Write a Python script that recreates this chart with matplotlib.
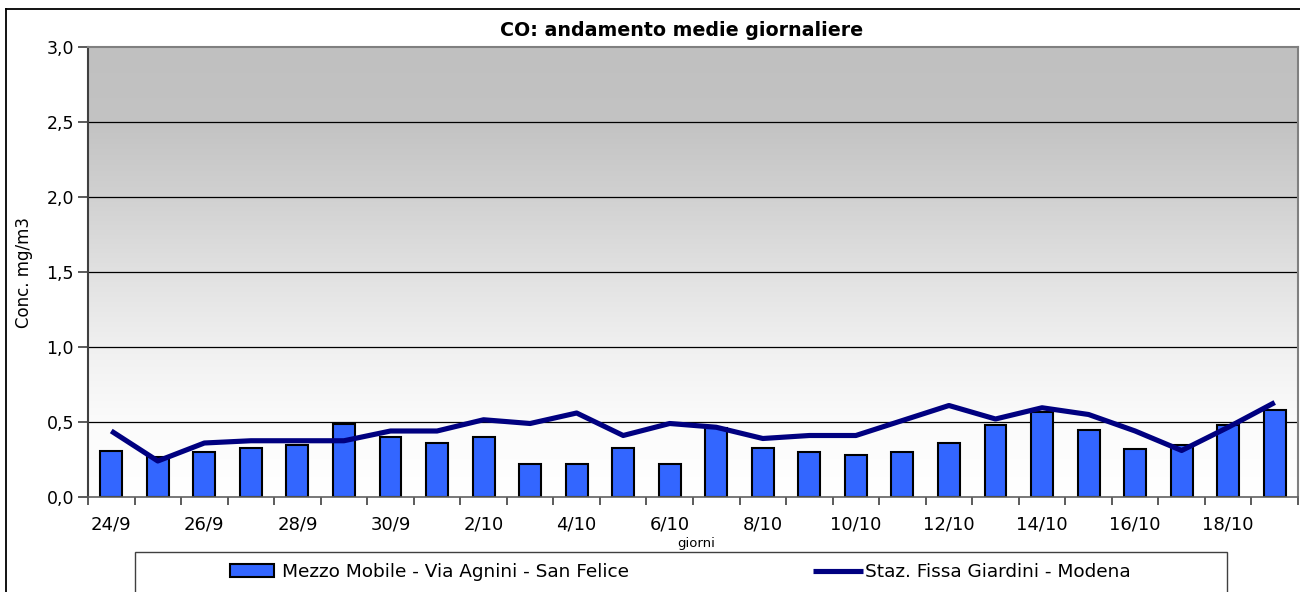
import numpy as np
import matplotlib.pyplot as plt
from matplotlib.colors import LinearSegmentedColormap
from matplotlib.patches import Rectangle
from matplotlib.lines import Line2D

plt.rcParams['font.family'] = ['DejaVu Sans']

# daily averages CO (mg/m3)
days = ['24/9', '25/9', '26/9', '27/9', '28/9', '29/9', '30/9',
        '1/10', '2/10', '3/10', '4/10', '5/10', '6/10', '7/10', '8/10',
        '9/10', '10/10', '11/10', '12/10', '13/10', '14/10', '15/10',
        '16/10', '17/10', '18/10', '19/10']
mezzo_mobile = [0.31, 0.27, 0.30, 0.33, 0.35, 0.49, 0.40, 0.36, 0.40, 0.22,
                0.22, 0.33, 0.22, 0.46, 0.33, 0.30, 0.28, 0.30, 0.36, 0.48,
                0.57, 0.45, 0.32, 0.345, 0.48, 0.58]
staz_fissa = [0.44, 0.24, 0.36, 0.375, 0.375, 0.375, 0.44, 0.44, 0.515, 0.49,
              0.56, 0.41, 0.49, 0.465, 0.39, 0.41, 0.41, 0.51, 0.61, 0.52,
              0.595, 0.55, 0.44, 0.31, 0.465, 0.63]
y_ticks = [0.0, 0.5, 1.0, 1.5, 2.0, 2.5, 3.0]

W, H = 1300, 592
fig = plt.figure(figsize=(W / 100, H / 100), dpi=100)
ax = fig.add_axes([88 / W, 1 - 497 / H, 1210 / W, 450 / H])

x = np.arange(len(days))

# grey-to-white gradient background (white at the bottom)
cmap = LinearSegmentedColormap.from_list('bg', [
    (0.0, '#ffffff'), (0.5 / 3, '#fbfbfb'), (1.0 / 3, '#f0f0f0'),
    (1.5 / 3, '#e1e1e1'), (2.0 / 3, '#d1d1d1'), (2.5 / 3, '#c3c3c3'),
    (1.0, '#c0c0c0')])
grad = np.linspace(0, 1, 256).reshape(-1, 1)
ax.imshow(grad, extent=[-0.5, len(days) - 0.5, 0, 3], aspect='auto',
          cmap=cmap, origin='lower', zorder=0, interpolation='bicubic')

for yv in y_ticks[1:-1]:
    ax.axhline(yv, color='black', lw=0.9, zorder=1)

ax.bar(x, mezzo_mobile, width=0.47, color='#3366ff', edgecolor='black',
       linewidth=1.5, zorder=2, label='Mezzo Mobile - Via Agnini - San Felice')
ax.plot(x, staz_fissa, color='#000080', lw=3.7, zorder=3,
        solid_joinstyle='round', solid_capstyle='butt',
        label='Staz. Fissa Giardini - Modena')

ax.set_xlim(-0.5, len(days) - 0.5)
ax.set_ylim(0, 3)

ax.set_xticks(x[::2])
ax.set_xticklabels(days[::2], fontsize=13)
ax.set_xticks(np.arange(-0.5, len(days)), minor=True)
ax.tick_params(axis='x', which='major', length=0, pad=13)
ax.tick_params(axis='x', which='minor', length=6, width=1.2, color='#404040')

ax.set_yticks(y_ticks)
ax.set_yticklabels([f'{v:.1f}'.replace('.', ',') for v in y_ticks], fontsize=12.5)
ax.tick_params(axis='y', length=7, width=1.2, color='#404040', pad=3)

for side in ['top', 'right']:
    ax.spines[side].set_color('#808080')
    ax.spines[side].set_linewidth(1.5)
ax.spines['left'].set_color('#404040')
ax.spines['left'].set_linewidth(1.5)
ax.spines['bottom'].set_color('#606060')
ax.spines['bottom'].set_linewidth(1.2)

ax.set_ylabel('Conc. mg/m3', fontsize=12, labelpad=10)
fig.text(682 / W, 1 - 30 / H, 'CO: andamento medie giornaliere',
         ha='center', va='center', fontsize=13.7, fontweight='bold')
fig.text(696 / W, 1 - 543 / H, 'giorni', ha='center', va='center', fontsize=9.5)

# outer chart border and legend box
fig.add_artist(Line2D([6 / W, 6 / W], [-0.1, 1 - 9 / H], color='black', lw=1.3))
fig.add_artist(Line2D([6 / W, 1.1], [1 - 9 / H, 1 - 9 / H], color='black', lw=1.3))
fig.add_artist(Rectangle((135 / W, -0.1), (1227 - 135) / W, 0.1 + (1 - 552 / H),
                         transform=fig.transFigure, fill=False,
                         edgecolor='#404040', lw=1.0))

h1, l1 = ax.get_legend_handles_labels()
leg_y = 1 - 572 / H
fig.legend([h1[1]], [l1[1]], loc='center left', bbox_to_anchor=(230 / W, leg_y),
           frameon=False, fontsize=13.3, borderpad=0, handlelength=2.4,
           handletextpad=0.42, borderaxespad=0)
fig.legend([h1[0]], [l1[0]], loc='center left', bbox_to_anchor=(813 / W, leg_y),
           frameon=False, fontsize=13.3, borderpad=0, handlelength=2.7,
           handletextpad=0.1, borderaxespad=0)

fig.savefig('out.png', dpi=100)
